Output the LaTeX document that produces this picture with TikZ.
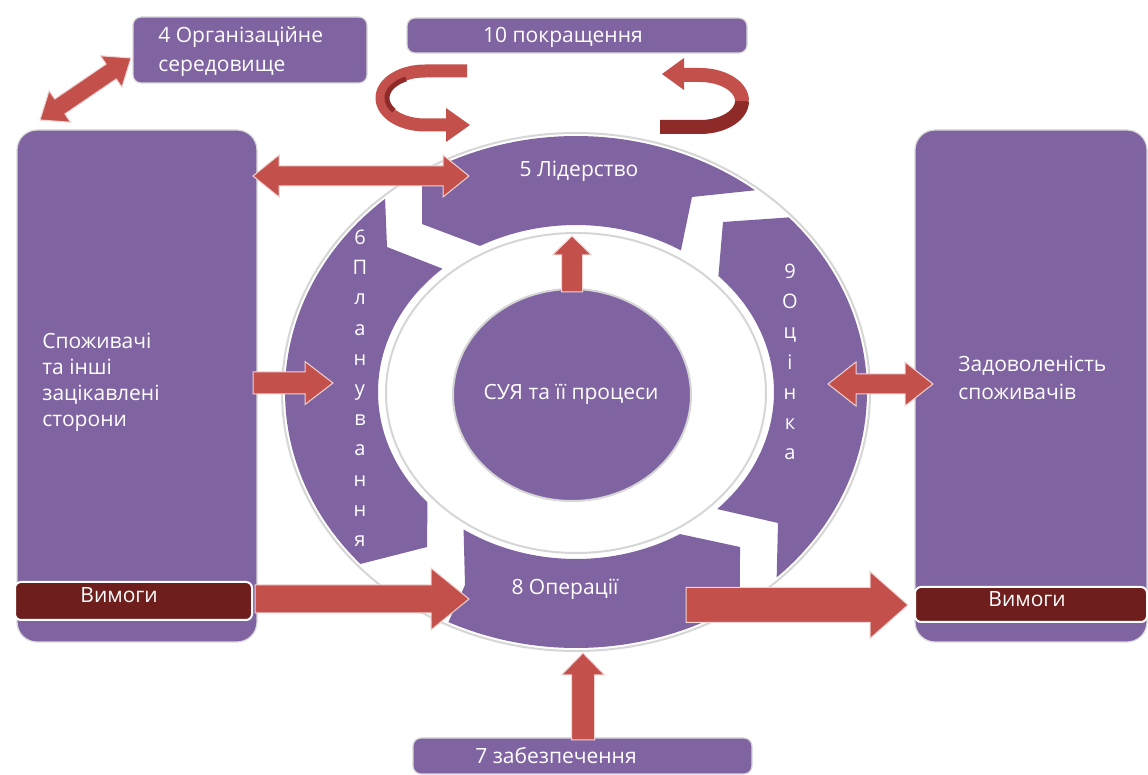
\documentclass[tikz,border=0pt]{standalone}
\usepackage{fontspec}
\setmainfont{Open Sans}
\usetikzlibrary{calc,shapes.geometric}
\definecolor{purp}{HTML}{8064A2}
\definecolor{reqmaroon}{HTML}{6E1E1C}
\definecolor{ared}{HTML}{C4504C}
\definecolor{adark}{HTML}{8E2B28}
\definecolor{ringgray}{HTML}{D6D6D6}
\tikzset{
  seg/.style={fill=purp},
  ringline/.style={draw=ringgray, line width=1pt},
  boxs/.style={fill=purp, draw=gray!30, line width=0.6pt, rounded corners=4pt, inner sep=0pt},
  bigbox/.style={fill=purp, draw=gray!30, line width=0.6pt, rounded corners=10pt, inner sep=0pt},
  reqbar/.style={fill=reqmaroon, draw=white, line width=1pt, rounded corners=3pt, inner sep=0pt},
  lbl/.style={text=white, font=\fontsize{10.5}{13}\selectfont, inner sep=0pt},
  vlbl/.style={text=white, font=\fontsize{10}{12}\selectfont, inner sep=0pt, anchor=base},
  arr/.style={fill=ared, draw=ared!25, line width=0.5pt},
}
% single block arrow: #1 tail, #2 tip, #3 shaft half width, #4 head half width, #5 head length
\newcommand\blkarrow[5]{%
  \coordinate (#1-h) at ($(#2)!#5!(#1)$);
  \fill[arr] ($(#1)!#3!90:(#2)$) -- ($(#1-h)!#3!-90:(#1)$) -- ($(#1-h)!#4!-90:(#1)$) -- (#2)
    -- ($(#1-h)!#4!90:(#1)$) -- ($(#1-h)!#3!90:(#1)$) -- ($(#1)!#3!-90:(#2)$) -- cycle;}
% double block arrow
\newcommand\dblarrow[5]{%
  \coordinate (#1-ha) at ($(#1)!#5!(#2)$);
  \coordinate (#1-hb) at ($(#2)!#5!(#1)$);
  \fill[arr] (#1) -- ($(#1-ha)!#4!90:(#2)$) -- ($(#1-ha)!#3!90:(#2)$) -- ($(#1-hb)!#3!-90:(#1)$)
    -- ($(#1-hb)!#4!-90:(#1)$) -- (#2) -- ($(#1-hb)!#4!90:(#1)$) -- ($(#1-hb)!#3!90:(#1)$)
    -- ($(#1-ha)!#3!-90:(#2)$) -- ($(#1-ha)!#4!-90:(#2)$) -- cycle;}
\begin{document}
\begin{tikzpicture}[x=0.5pt,y=-0.5pt]
\useasboundingbox (0,0) rectangle (1148,775);
\fill[white] (0,0) rectangle (1148,775);
% ring outlines
\draw[ringline] (576,392) ellipse [x radius=147pt, y radius=129.5pt];
\draw[ringline] (576,393) ellipse [x radius=95pt, y radius=80pt];
% segments
\fill[seg] plot[domain=117:52,samples=40] ({576+291*cos(\x)},{392-256*sin(\x)}) -- (692,197)
  -- plot[domain=58:119,samples=40] ({576+198*cos(\x)},{392-167*sin(\x)}) -- (422,224) -- (422,186) -- cycle;
\fill[seg] plot[domain=43:-46.4,samples=50] ({576+291*cos(\x)},{392-256*sin(\x)}) -- (778,523)
  -- plot[domain=-44.5:44,samples=50] ({576+198*cos(\x)},{392-167*sin(\x)}) -- (723,222) -- cycle;
\fill[seg] plot[domain=235.4:301.7,samples=50] ({576+198*cos(\x)},{392-167*sin(\x)}) -- (740,547)
  -- plot[domain=304.3:244,samples=50] ({576+291*cos(\x)},{392-256*sin(\x)}) -- (465,585) -- cycle;
\fill[seg] plot[domain=131:222.2,samples=50] ({576+291*cos(\x)},{392-256*sin(\x)}) -- (427,547)
  -- plot[domain=221.4:132.4,samples=50] ({576+198*cos(\x)},{392-167*sin(\x)}) -- (387,247) -- cycle;
% core
\node[ellipse, fill=purp, draw=ringgray, line width=1pt, minimum width=119pt, minimum height=106pt, inner sep=0pt] (core) at (572,395) {};
% boxes
\node[boxs, minimum width=117pt, minimum height=33pt] (org) at (250,50) {};
\node[boxs, minimum width=170pt, minimum height=17.5pt] (impr) at (577,35.5) {};
\node[boxs, minimum width=169.5pt, minimum height=18pt] (supp) at (582.5,756) {};
\node[bigbox, minimum width=120pt, minimum height=256pt] (cust) at (137,386) {};
\node[bigbox, minimum width=116pt, minimum height=256pt] (sat) at (1031,386) {};
\node[reqbar, minimum width=118.5pt, minimum height=19pt] (reqL) at (133.5,601) {};
\node[reqbar, minimum width=116pt, minimum height=17.5pt] (reqR) at (1031,604.5) {};
% labels
\node[lbl, anchor=base west, align=left] (torg1) at (158,43) {4 Організаційне};
\node[lbl, anchor=base west, align=left] (torg2) at (158,72) {середовище};
\node[lbl, anchor=base] (timpr) at (563,43) {10 покращення};
\node[lbl, anchor=base] (tsupp) at (556,763) {7 забезпечення};
\node[lbl, anchor=base] (tlead) at (579,177) {5 Лідерство};
\node[lbl, anchor=base] (tops) at (565,595) {8 Операції};
\node[lbl, anchor=base] (tcore) at (571,400) {СУЯ та її процеси};
\node[lbl, anchor=base west] (tc1) at (42,349) {Споживачі};
\node[lbl, anchor=base west] (tc2) at (42,375) {та інші};
\node[lbl, anchor=base west] (tc3) at (42,401) {зацікавлені};
\node[lbl, anchor=base west] (tc4) at (42,427) {сторони};
\node[lbl, anchor=base west] (ts1) at (958,372) {Задоволеність};
\node[lbl, anchor=base west] (ts2) at (958,400) {споживачів};
\node[lbl, anchor=base west] (trL) at (80,603) {Вимоги};
\node[lbl, anchor=base west] (trR) at (988,607) {Вимоги};
\foreach \ch [count=\i from 0] in {6,П,л,а,н,у,в,а,н,н,я}
  \node[vlbl] (pl\i) at (360,{244.5+30.2*\i}) {\ch};
\foreach \ch [count=\i from 0] in {9,О,ц,і,н,к,а}
  \node[vlbl] (ev\i) at (790,{278.5+30.2*\i}) {\ch};
% loop arrows (improvement)
\draw[line width=6.5pt, ared] (467,71) -- (425,71) -- plot[domain=90:270,samples=40] ({425+43*cos(\x)},{98-27*sin(\x)}) -- (448,125);
\draw[line width=2.5pt, adark] plot[domain=120:215,samples=30] ({425+38*cos(\x)},{98-22*sin(\x)});
\coordinate (loopL) at (470,125);
\fill[ared] (446,108) -- (loopL) -- (446,142) -- cycle;
\draw[line width=7pt, adark] (660,127) -- (700,127) -- plot[domain=270:360,samples=30] ({700+42*cos(\x)},{101-26*sin(\x)});
\draw[line width=7pt, ared] plot[domain=0:90,samples=30] ({700+42*cos(\x)},{101-26*sin(\x)}) -- (682,75);
\coordinate (loopR) at (662,74);
\fill[ared] (684,58) -- (loopR) -- (684,90) -- cycle;
% block arrows
\coordinate (aorgA) at (40,120); \coordinate (aorgB) at (131,58);
\dblarrow{aorgA}{aorgB}{4.5pt}{9.5pt}{12pt}
\coordinate (aleadA) at (253,176); \coordinate (aleadB) at (469,176);
\dblarrow{aleadA}{aleadB}{5pt}{10.5pt}{13pt}
\coordinate (aplanA) at (253,383); \coordinate (aplanB) at (333,383);
\blkarrow{aplanA}{aplanB}{5.5pt}{10.75pt}{14pt}
\coordinate (aevalA) at (828,384); \coordinate (aevalB) at (933,384);
\dblarrow{aevalA}{aevalB}{5pt}{11pt}{14pt}
\coordinate (ainA) at (255,599); \coordinate (ainB) at (469,599);
\blkarrow{ainA}{ainB}{7pt}{15.5pt}{19pt}
\coordinate (aoutA) at (686,605); \coordinate (aoutB) at (908,605);
\blkarrow{aoutA}{aoutB}{8.75pt}{16.75pt}{19pt}
\coordinate (asupA) at (583,740); \coordinate (asupB) at (583,653);
\blkarrow{asupA}{asupB}{5.75pt}{10.75pt}{11pt}
\coordinate (acoreA) at (572,292); \coordinate (acoreB) at (572,236);
\blkarrow{acoreA}{acoreB}{5.25pt}{9.75pt}{9.5pt}
\end{tikzpicture}
\end{document}
